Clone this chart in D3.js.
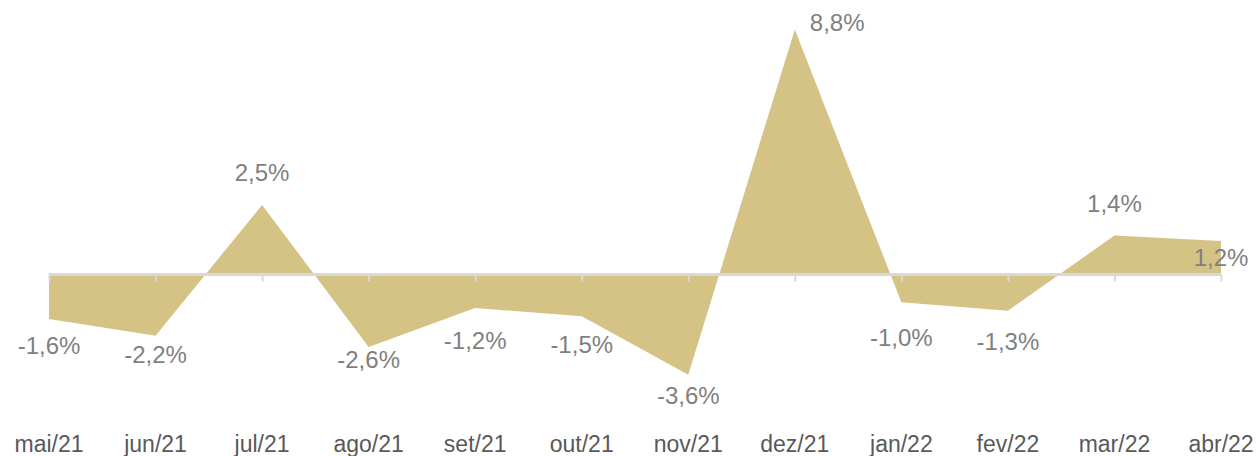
<!DOCTYPE html>
<html>
<head>
<meta charset="utf-8">
<script src="https://cdn.jsdelivr.net/npm/d3@7"></script>
<style>
  html, body { margin: 0; padding: 0; background: #fff; }
  svg { display: block; }
</style>
</head>
<body>
<svg id="chart" width="1257" height="456"></svg>
<script>
const categories = ["mai/21","jun/21","jul/21","ago/21","set/21","out/21","nov/21","dez/21","jan/22","fev/22","mar/22","abr/22"];
const values = [-1.6, -2.2, 2.5, -2.6, -1.2, -1.5, -3.6, 8.8, -1.0, -1.3, 1.4, 1.2];
const labelPlacement = ["below","below","above","below","below","below","below","right","below","below","above","inside"];

const svg = d3.select("#chart");

const x = d3.scalePoint().domain(categories).range([49, 1221]);
const y = d3.scaleLinear().domain([-4, 9]).range([385.9, 23.9]);
// secondary scale used to stack the negative value labels below the chart
const yLabel = d3.scaleLinear().domain([0, -1]).range([332, 345.9]);

const data = categories.map((c, i) => ({ c, v: values[i], p: labelPlacement[i] }));

// area
const area = d3.area()
  .x(d => x(d.c))
  .y0(y(0))
  .y1(d => y(d.v));

svg.append("path")
  .datum(data)
  .attr("d", area)
  .attr("fill", "#D5C386");

// baseline axis
const axis = d3.axisBottom(x).tickSize(7).tickFormat("").tickSizeOuter(0);
const gAxis = svg.append("g")
  .attr("transform", `translate(0,${y(0)})`)
  .call(axis);
gAxis.select(".domain").attr("stroke", "#d9d9d9").attr("stroke-width", 3)
  .attr("d", `M${x(categories[0])},0H${x(categories[categories.length-1])}`);
gAxis.selectAll(".tick line").attr("stroke", "#d9d9d9").attr("stroke-width", 2);

// category labels
svg.append("g")
  .selectAll("text")
  .data(categories)
  .join("text")
  .attr("x", d => x(d))
  .attr("y", 452)
  .attr("text-anchor", "middle")
  .attr("font-family", "'Liberation Sans', Arial, sans-serif")
  .attr("font-size", "23px")
  .attr("fill", "#595959")
  .text(d => d);

// data labels
const fmt = v => v.toFixed(1).replace(".", ",") + "%";
svg.append("g")
  .selectAll("text")
  .data(data)
  .join("text")
  .attr("x", d => d.p === "right" ? x(d.c) + 15 : x(d.c))
  .attr("y", d => {
    const py = y(d.v);
    if (d.p === "below") {
      let b = yLabel(d.v);
      if (b - 17 < py) b = py + 29; // avoid overlapping the area tip
      return b;
    }
    if (d.p === "above") return py - 24;
    if (d.p === "inside") return py + 25;
    return py + 2;
  })
  .attr("text-anchor", d => d.p === "right" ? "start" : "middle")
  .attr("font-family", "'Liberation Sans', Arial, sans-serif")
  .attr("font-size", "24px")
  .attr("fill", "#7f7f7f")
  .text(d => fmt(d.v));
</script>
</body>
</html>
